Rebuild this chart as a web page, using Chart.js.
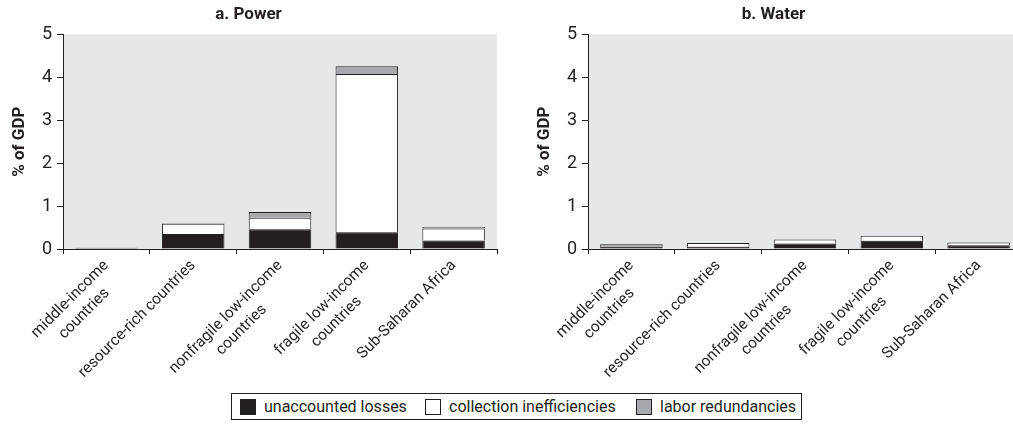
<!DOCTYPE html>
<html>
<head>
<meta charset="utf-8">
<script src="https://cdn.jsdelivr.net/npm/chart.js@4.4.1/dist/chart.umd.min.js"></script>
<style>
  html, body { margin: 0; padding: 0; width: 1013px; height: 427px; overflow: hidden; background: #fff; }
  .panel { position: absolute; top: 0; }
  #power { left: 0; }
  #water { left: 525px; }
  #legend {
    position: absolute; left: 231px; top: 393px; width: 569px; height: 25px;
    border: 1px solid #231f20;
    font-family: Roboto, "Open Sans", sans-serif;
    font-size: 16px; color: #231f20; white-space: nowrap;
  }
  #legend .box { position: absolute; top: 5px; width: 16px; height: 16px; border: 1px solid #231f20; box-sizing: border-box; }
  #legend .text { position: absolute; top: 3px; line-height: 20px; }
</style>
</head>
<body>
<canvas id="power" class="panel" width="500" height="390"></canvas>
<canvas id="water" class="panel" width="500" height="390"></canvas>
<div id="legend"></div>
<script>
// categories shared by both panels
const categories = [
  ["middle-income", "countries"],
  "resource-rich countries",
  ["nonfragile low-income", "countries"],
  ["fragile low-income", "countries"],
  "Sub-Saharan Africa"
];
const seriesNames = ["unaccounted losses", "collection inefficiencies", "labor redundancies"];
const seriesColors = ["#231f20", "#ffffff", "#a7a9ac"];

// a. Power, % of GDP
const powerUnaccounted = [0.03, 0.35, 0.46, 0.39, 0.20];
const powerCollection = [0, 0.24, 0.27, 3.69, 0.28];
const powerLabor = [0, 0.01, 0.13, 0.18, 0.04];

// b. Water, % of GDP
const waterUnaccounted = [0.05, 0.05, 0.13, 0.19, 0.09];
const waterCollection = [0, 0.09, 0.09, 0.12, 0.06];
const waterLabor = [0.06, 0, 0, 0, 0];

const yTicks = [0, 1, 2, 3, 4, 5];

const INK = "#231f20";
const FONT = 'Roboto, "Open Sans", sans-serif';
const TICK_SIZE = 15.5;

// grey plot background
const plotBackground = {
  id: "plotBackground",
  beforeDraw(chart) {
    const { ctx, chartArea: a } = chart;
    ctx.save();
    ctx.fillStyle = "#e6e7e8";
    ctx.fillRect(a.left, a.top, a.right - a.left, a.bottom - a.top);
    ctx.restore();
  }
};

// rotated labels are right aligned by Chart.js; pad short lines so they sit centred
const measure = document.createElement("canvas").getContext("2d");
measure.font = TICK_SIZE + "px " + FONT;
function centred(label) {
  if (!Array.isArray(label)) return label;
  const widths = label.map(l => measure.measureText(l).width);
  const max = Math.max(...widths);
  const sp = measure.measureText("\u00a0").width;
  return label.map((l, i) => l + "\u00a0".repeat(Math.round((max - widths[i]) / 2 / sp)));
}

function makeChart(id, title, series) {
  const ctx = document.getElementById(id).getContext("2d");
  return new Chart(ctx, {
    type: "bar",
    data: {
      labels: categories.map(centred),
      datasets: series.map((data, i) => ({
        label: seriesNames[i],
        data,
        backgroundColor: seriesColors[i],
        borderColor: INK,
        borderWidth: 1,
        categoryPercentage: 0.72,
        barPercentage: 1
      }))
    },
    options: {
      responsive: false,
      animation: false,
      devicePixelRatio: 1,
      layout: { padding: { left: 0, right: 3, top: 0, bottom: 0 } },
      plugins: {
        legend: { display: false },
        tooltip: { enabled: false },
        title: {
          display: true,
          text: title,
          color: INK,
          font: { family: FONT, size: 17, weight: "bold" },
          padding: { top: 5, bottom: 9 }
        }
      },
      scales: {
        x: {
          stacked: true,
          grid: { offset: true, drawOnChartArea: false, tickLength: 5, color: INK },
          border: { color: INK },
          ticks: {
            autoSkip: false, minRotation: 45, maxRotation: 45,
            color: INK, padding: 2,
            font: { family: FONT, size: TICK_SIZE, lineHeight: 1.3 }
          },
          afterFit(s) { s.height = 141; }
        },
        y: {
          stacked: true,
          min: 0,
          max: 5,
          afterBuildTicks(s) { s.ticks = yTicks.map(v => ({ value: v })); },
          grid: { drawOnChartArea: false, tickLength: 6, color: INK },
          border: { color: INK },
          ticks: { color: INK, padding: 5, font: { family: FONT, size: 18 } },
          title: {
            display: true,
            text: "% of GDP",
            color: INK,
            font: { family: FONT, size: 17, weight: "bold" },
            padding: { top: 10, bottom: 0 }
          },
          afterFit(s) { s.width = 63; }
        }
      }
    },
    plugins: [plotBackground]
  });
}

makeChart("power", "a. Power", [powerUnaccounted, powerCollection, powerLabor]);
makeChart("water", "b. Water", [waterUnaccounted, waterCollection, waterLabor]);

// shared legend, item positions inside the box
const boxLeft = [8, 193, 404];
const legend = document.getElementById("legend");
seriesNames.forEach((name, i) => {
  const box = document.createElement("span");
  box.className = "box";
  box.style.left = boxLeft[i] + "px";
  box.style.background = seriesColors[i];
  const label = document.createElement("span");
  label.className = "text";
  label.style.left = (boxLeft[i] + 24) + "px";
  label.textContent = name;
  legend.appendChild(box);
  legend.appendChild(label);
});
</script>
</body>
</html>
